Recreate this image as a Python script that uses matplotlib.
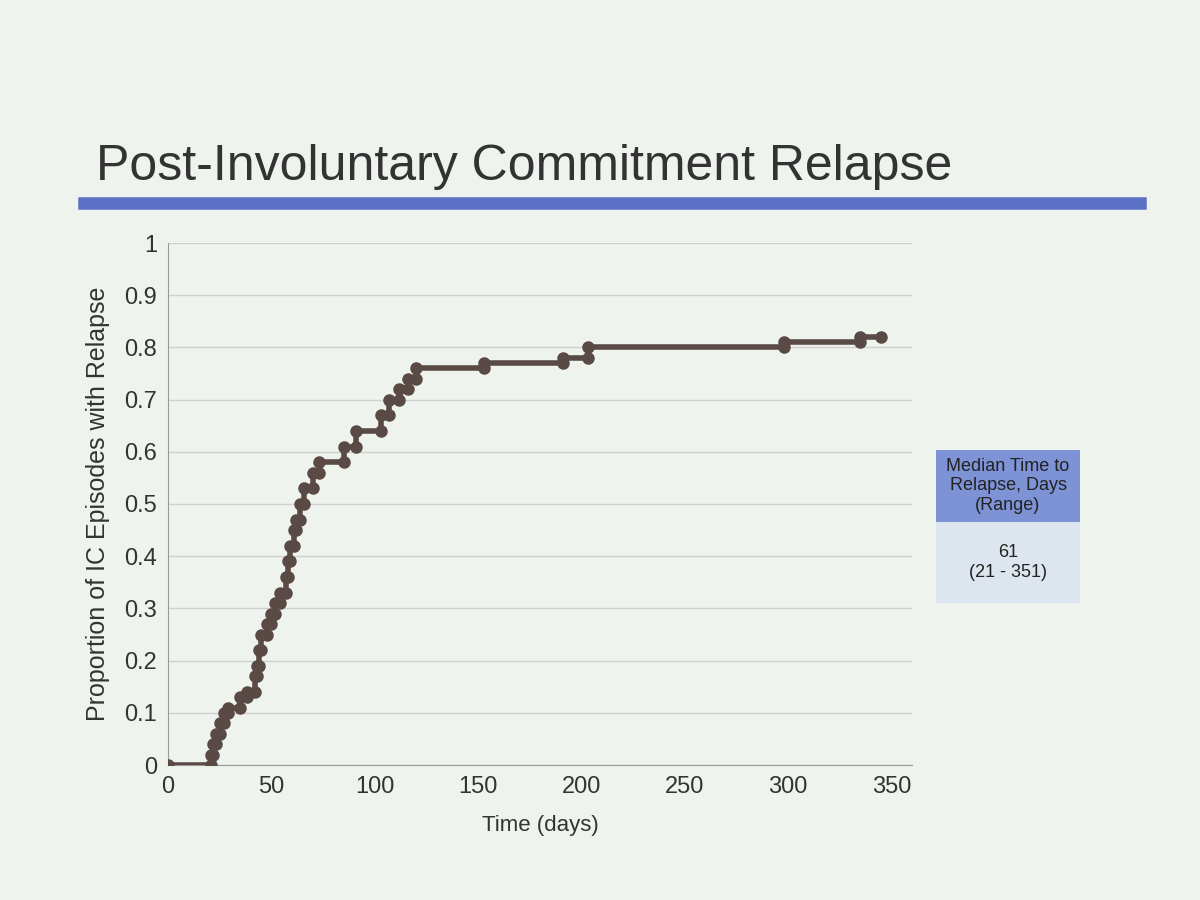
import matplotlib
matplotlib.use("Agg")
import matplotlib.pyplot as plt
plt.rcParams['font.family'] = ['Liberation Sans', 'DejaVu Sans']

event_times = [21,22,23,25,27,29,35,38,42,43,44,45,48,50,52,54,57,58,59,61,62,64,66,70,73,85,91,103,107,112,116,120,153,191,203,298,335]
event_props = [0.02,0.04,0.06,0.08,0.10,0.11,0.13,0.14,0.17,0.19,0.22,0.25,0.27,0.29,0.31,0.33,0.36,0.39,0.42,0.45,0.47,0.50,0.53,0.56,0.58,0.61,0.64,0.67,0.70,0.72,0.74,0.76,0.77,0.78,0.80,0.81,0.82]
end_time = 345
xticks = [0,50,100,150,200,250,300,350]
yticks = [0,0.1,0.2,0.3,0.4,0.5,0.6,0.7,0.8,0.9,1]

fig = plt.figure(figsize=(12,9), dpi=100)
fig.patch.set_facecolor("#eef3ee")
fig.text(0.08, 0.80, "Post-Involuntary Commitment Relapse", fontsize=36, color="#333333")
fig.add_artist(plt.Line2D([0.07, 0.95], [0.775, 0.775], color="#5b70c4", lw=9))

ax = fig.add_axes([0.14, 0.15, 0.62, 0.58])
ax.set_facecolor("#eef3ee")
xs, ys = [0], [0.0]
prev = 0.0
for t, p in zip(event_times, event_props):
    xs += [t, t]; ys += [prev, p]; prev = p
xs.append(end_time); ys.append(prev)
ax.plot(xs, ys, color="#5a4a46", lw=4, marker="o", ms=8, zorder=3)
ax.set_xlim(0, 360); ax.set_ylim(0, 1)
ax.set_xticks(xticks); ax.set_yticks(yticks)
ax.set_yticklabels([f"{v:g}" for v in yticks])
ax.tick_params(labelsize=17, length=0, colors="#333333", pad=8)
ax.grid(axis="y", color="#d0d0d0", lw=1)
for s in ["top", "right"]:
    ax.spines[s].set_visible(False)
ax.spines["left"].set_color("#999999"); ax.spines["bottom"].set_color("#999999")
ax.set_xlabel("Time (days)", fontsize=16, color="#333333", labelpad=12)
ax.set_ylabel("Proportion of IC Episodes with Relapse", fontsize=18, color="#333333", labelpad=10)

fig.add_artist(plt.Rectangle((0.78, 0.42), 0.12, 0.08, facecolor="#7e93d6", transform=fig.transFigure))
fig.text(0.84, 0.46, "Median Time to\nRelapse, Days\n(Range)", ha="center", va="center", fontsize=13, color="#222222")
fig.add_artist(plt.Rectangle((0.78, 0.33), 0.12, 0.09, facecolor="#dde6ee", transform=fig.transFigure))
fig.text(0.84, 0.375, "61\n(21 - 351)", ha="center", va="center", fontsize=13, color="#222222")
fig.savefig("out.png", facecolor=fig.get_facecolor())
